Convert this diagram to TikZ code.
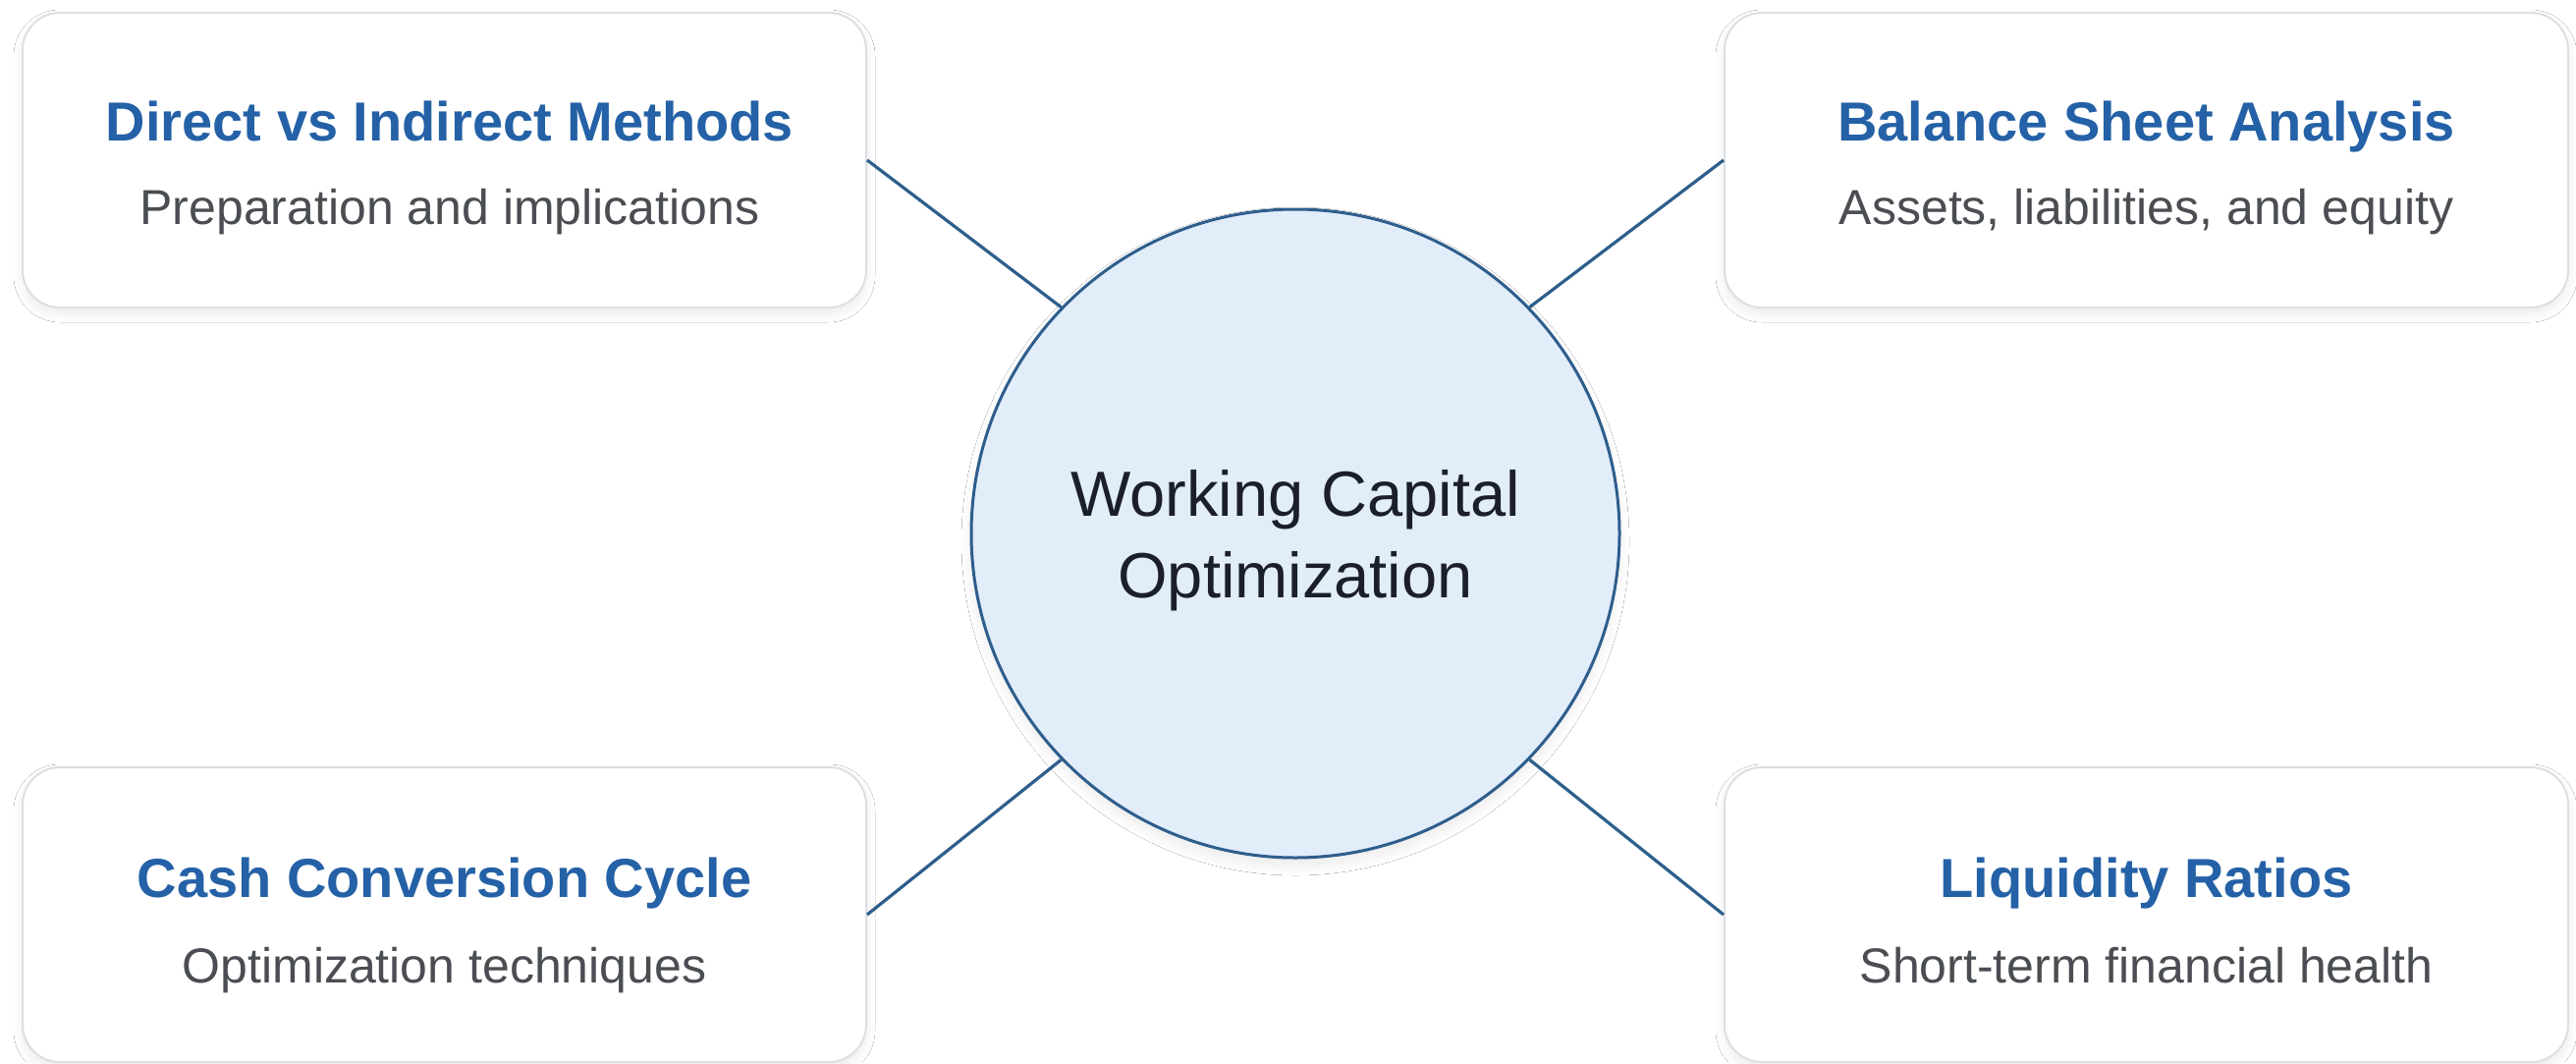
\documentclass[tikz,border=0pt]{standalone}
\usepackage{fontspec}
\setmainfont{Liberation Sans}
\usetikzlibrary{shadows.blur}
\definecolor{titleblue}{HTML}{2461A6}
\definecolor{subgray}{HTML}{4A4D52}
\definecolor{hubtext}{HTML}{1B1F2A}
\definecolor{edgeblue}{HTML}{2E5E8C}
\definecolor{hubfill}{HTML}{E2EDFA}
\definecolor{cardline}{HTML}{DCDFE4}
\begin{document}
\begin{tikzpicture}[x=1pt,y=-1pt,
  card/.style={draw=cardline, line width=2pt, rounded corners=38pt, fill=white,
    minimum width=859pt, minimum height=300pt, inner sep=0pt,
    blur shadow={shadow blur steps=10, shadow xshift=0pt, shadow yshift=-6pt, shadow opacity=8, shadow blur radius=9pt}},
  ttl/.style={anchor=base, text=titleblue, font=\fontsize{56}{60}\selectfont\bfseries, inner sep=0pt},
  sub/.style={anchor=base, text=subgray, font=\fontsize{50}{56}\selectfont, inner sep=0pt},
  hub/.style={circle, draw=edgeblue, line width=3pt, fill=hubfill, minimum size=660pt, inner sep=0pt,
    blur shadow={shadow blur steps=10, shadow xshift=0pt, shadow yshift=-8pt, shadow opacity=8, shadow blur radius=10pt}},
  hubtxt/.style={anchor=base, text=hubtext, font=\fontsize{65}{72}\selectfont, inner sep=0pt},
  conn/.style={draw=edgeblue, line width=3.2pt}]
\fill[white] (0,0) rectangle (2623,1082);
\path[use as bounding box] (0,0) rectangle (2623,1082);

\node[card] (tl) at (452.5,163) {};
\node[card] (tr) at (2185.5,163) {};
\node[card] (bl) at (452.5,931) {};
\node[card] (br) at (2185.5,931) {};

\node[hub] (hub) at (1319,543) {};
\draw[conn] (tl.east) -- (hub.136);
\draw[conn] (tr.west) -- (hub.44);
\draw[conn] (bl.east) -- (hub.224);
\draw[conn] (br.west) -- (hub.316);

\node[hubtxt] (h1) at (1319,525) {Working Capital};
\node[hubtxt] (h2) at (1319,608) {Optimization};

\node[ttl] (t1) at (458,143) {Direct vs Indirect Methods};
\node[sub] (s1) at (458,228) {Preparation and implications};
\node[ttl] (t2) at (2185.5,143) {Balance Sheet Analysis};
\node[sub] (s2) at (2185.5,228) {Assets, liabilities, and equity};
\node[ttl] (t3) at (452.5,913) {Cash Conversion Cycle};
\node[sub] (s3) at (452.5,1000) {Optimization techniques};
\node[ttl] (t4) at (2185.5,913) {Liquidity Ratios};
\node[sub] (s4) at (2185.5,1000) {Short-term financial health};
\end{tikzpicture}
\end{document}
